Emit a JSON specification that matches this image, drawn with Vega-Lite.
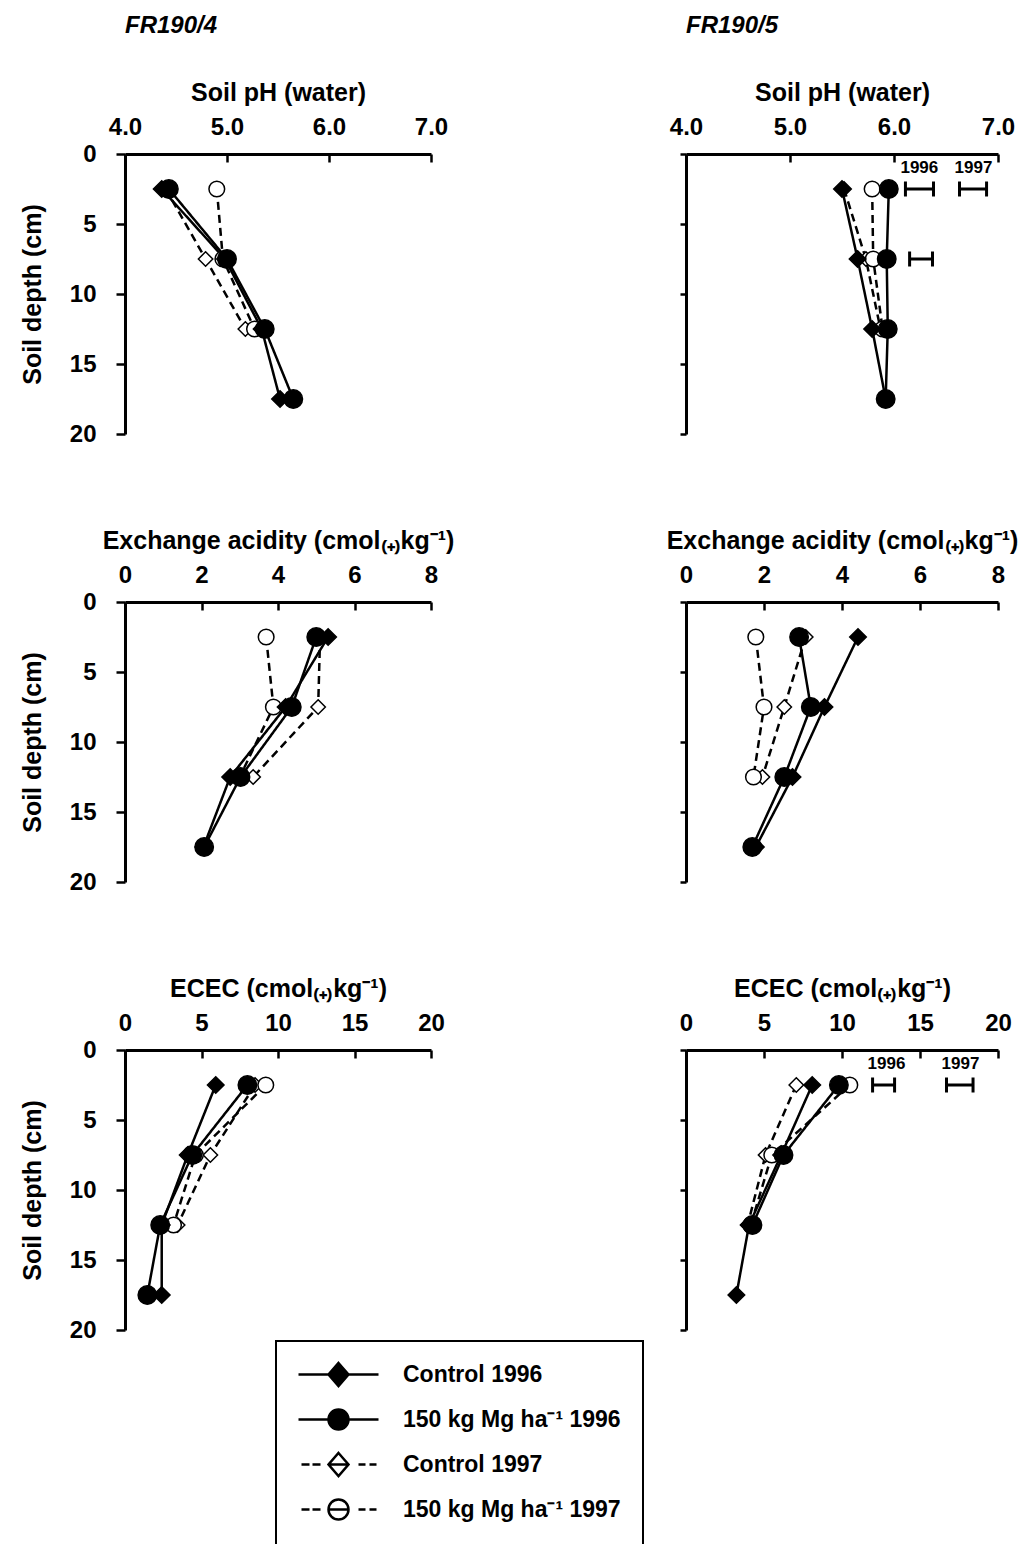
{
  "$schema": "https://vega.github.io/schema/vega-lite/v6.json",
  "padding": {"left": 20, "top": 14, "right": 5, "bottom": 240},
  "datasets": {
    "profiles": [
      {"panel": "pH4", "series": "Control 1997", "depth": 2.5, "value": 4.4},
      {"panel": "pH4", "series": "Control 1997", "depth": 7.5, "value": 4.79},
      {"panel": "pH4", "series": "Control 1997", "depth": 12.5, "value": 5.18},
      {"panel": "pH4", "series": "150 kg Mg ha⁻¹ 1997", "depth": 2.5, "value": 4.9},
      {"panel": "pH4", "series": "150 kg Mg ha⁻¹ 1997", "depth": 7.5, "value": 4.96},
      {"panel": "pH4", "series": "150 kg Mg ha⁻¹ 1997", "depth": 12.5, "value": 5.27},
      {"panel": "pH4", "series": "Control 1996", "depth": 2.5, "value": 4.36},
      {"panel": "pH4", "series": "Control 1996", "depth": 7.5, "value": 4.98},
      {"panel": "pH4", "series": "Control 1996", "depth": 12.5, "value": 5.34},
      {"panel": "pH4", "series": "Control 1996", "depth": 17.5, "value": 5.52},
      {"panel": "pH4", "series": "150 kg Mg ha⁻¹ 1996", "depth": 2.5, "value": 4.43},
      {"panel": "pH4", "series": "150 kg Mg ha⁻¹ 1996", "depth": 7.5, "value": 5.0},
      {"panel": "pH4", "series": "150 kg Mg ha⁻¹ 1996", "depth": 12.5, "value": 5.37},
      {"panel": "pH4", "series": "150 kg Mg ha⁻¹ 1996", "depth": 17.5, "value": 5.65},

      {"panel": "pH5", "series": "Control 1997", "depth": 2.5, "value": 5.52},
      {"panel": "pH5", "series": "Control 1997", "depth": 7.5, "value": 5.73},
      {"panel": "pH5", "series": "Control 1997", "depth": 12.5, "value": 5.87},
      {"panel": "pH5", "series": "150 kg Mg ha⁻¹ 1997", "depth": 2.5, "value": 5.79},
      {"panel": "pH5", "series": "150 kg Mg ha⁻¹ 1997", "depth": 7.5, "value": 5.8},
      {"panel": "pH5", "series": "150 kg Mg ha⁻¹ 1997", "depth": 12.5, "value": 5.89},
      {"panel": "pH5", "series": "Control 1996", "depth": 2.5, "value": 5.5},
      {"panel": "pH5", "series": "Control 1996", "depth": 7.5, "value": 5.65},
      {"panel": "pH5", "series": "Control 1996", "depth": 12.5, "value": 5.79},
      {"panel": "pH5", "series": "Control 1996", "depth": 17.5, "value": 5.92},
      {"panel": "pH5", "series": "150 kg Mg ha⁻¹ 1996", "depth": 2.5, "value": 5.95},
      {"panel": "pH5", "series": "150 kg Mg ha⁻¹ 1996", "depth": 7.5, "value": 5.93},
      {"panel": "pH5", "series": "150 kg Mg ha⁻¹ 1996", "depth": 12.5, "value": 5.94},
      {"panel": "pH5", "series": "150 kg Mg ha⁻¹ 1996", "depth": 17.5, "value": 5.92},

      {"panel": "EA4", "series": "Control 1997", "depth": 2.5, "value": 5.1},
      {"panel": "EA4", "series": "Control 1997", "depth": 7.5, "value": 5.05},
      {"panel": "EA4", "series": "Control 1997", "depth": 12.5, "value": 3.35},
      {"panel": "EA4", "series": "150 kg Mg ha⁻¹ 1997", "depth": 2.5, "value": 3.69},
      {"panel": "EA4", "series": "150 kg Mg ha⁻¹ 1997", "depth": 7.5, "value": 3.88},
      {"panel": "EA4", "series": "150 kg Mg ha⁻¹ 1997", "depth": 12.5, "value": 3.0},
      {"panel": "EA4", "series": "Control 1996", "depth": 2.5, "value": 5.31},
      {"panel": "EA4", "series": "Control 1996", "depth": 7.5, "value": 4.2},
      {"panel": "EA4", "series": "Control 1996", "depth": 12.5, "value": 2.75},
      {"panel": "EA4", "series": "Control 1996", "depth": 17.5, "value": 2.05},
      {"panel": "EA4", "series": "150 kg Mg ha⁻¹ 1996", "depth": 2.5, "value": 5.0},
      {"panel": "EA4", "series": "150 kg Mg ha⁻¹ 1996", "depth": 7.5, "value": 4.36},
      {"panel": "EA4", "series": "150 kg Mg ha⁻¹ 1996", "depth": 12.5, "value": 3.02},
      {"panel": "EA4", "series": "150 kg Mg ha⁻¹ 1996", "depth": 17.5, "value": 2.07},

      {"panel": "EA5", "series": "Control 1997", "depth": 2.5, "value": 3.07},
      {"panel": "EA5", "series": "Control 1997", "depth": 7.5, "value": 2.52},
      {"panel": "EA5", "series": "Control 1997", "depth": 12.5, "value": 1.96},
      {"panel": "EA5", "series": "150 kg Mg ha⁻¹ 1997", "depth": 2.5, "value": 1.79},
      {"panel": "EA5", "series": "150 kg Mg ha⁻¹ 1997", "depth": 7.5, "value": 2.0},
      {"panel": "EA5", "series": "150 kg Mg ha⁻¹ 1997", "depth": 12.5, "value": 1.73},
      {"panel": "EA5", "series": "Control 1996", "depth": 2.5, "value": 4.41},
      {"panel": "EA5", "series": "Control 1996", "depth": 7.5, "value": 3.55},
      {"panel": "EA5", "series": "Control 1996", "depth": 12.5, "value": 2.73},
      {"panel": "EA5", "series": "Control 1996", "depth": 17.5, "value": 1.79},
      {"panel": "EA5", "series": "150 kg Mg ha⁻¹ 1996", "depth": 2.5, "value": 2.9},
      {"panel": "EA5", "series": "150 kg Mg ha⁻¹ 1996", "depth": 7.5, "value": 3.2},
      {"panel": "EA5", "series": "150 kg Mg ha⁻¹ 1996", "depth": 12.5, "value": 2.52},
      {"panel": "EA5", "series": "150 kg Mg ha⁻¹ 1996", "depth": 17.5, "value": 1.7},

      {"panel": "EC4", "series": "Control 1997", "depth": 2.5, "value": 8.5},
      {"panel": "EC4", "series": "Control 1997", "depth": 7.5, "value": 5.58},
      {"panel": "EC4", "series": "Control 1997", "depth": 12.5, "value": 3.44},
      {"panel": "EC4", "series": "150 kg Mg ha⁻¹ 1997", "depth": 2.5, "value": 9.2},
      {"panel": "EC4", "series": "150 kg Mg ha⁻¹ 1997", "depth": 7.5, "value": 4.6},
      {"panel": "EC4", "series": "150 kg Mg ha⁻¹ 1997", "depth": 12.5, "value": 3.17},
      {"panel": "EC4", "series": "Control 1996", "depth": 2.5, "value": 5.93},
      {"panel": "EC4", "series": "Control 1996", "depth": 7.5, "value": 4.1},
      {"panel": "EC4", "series": "Control 1996", "depth": 12.5, "value": 2.4},
      {"panel": "EC4", "series": "Control 1996", "depth": 17.5, "value": 2.4},
      {"panel": "EC4", "series": "150 kg Mg ha⁻¹ 1996", "depth": 2.5, "value": 8.0},
      {"panel": "EC4", "series": "150 kg Mg ha⁻¹ 1996", "depth": 7.5, "value": 4.4},
      {"panel": "EC4", "series": "150 kg Mg ha⁻¹ 1996", "depth": 12.5, "value": 2.3},
      {"panel": "EC4", "series": "150 kg Mg ha⁻¹ 1996", "depth": 17.5, "value": 1.46},

      {"panel": "EC5", "series": "Control 1997", "depth": 2.5, "value": 7.07},
      {"panel": "EC5", "series": "Control 1997", "depth": 7.5, "value": 5.1},
      {"panel": "EC5", "series": "Control 1997", "depth": 12.5, "value": 3.95},
      {"panel": "EC5", "series": "150 kg Mg ha⁻¹ 1997", "depth": 2.5, "value": 10.5},
      {"panel": "EC5", "series": "150 kg Mg ha⁻¹ 1997", "depth": 7.5, "value": 5.5},
      {"panel": "EC5", "series": "150 kg Mg ha⁻¹ 1997", "depth": 12.5, "value": 4.15},
      {"panel": "EC5", "series": "Control 1996", "depth": 2.5, "value": 8.09},
      {"panel": "EC5", "series": "Control 1996", "depth": 7.5, "value": 6.1},
      {"panel": "EC5", "series": "Control 1996", "depth": 12.5, "value": 4.04},
      {"panel": "EC5", "series": "Control 1996", "depth": 17.5, "value": 3.23},
      {"panel": "EC5", "series": "150 kg Mg ha⁻¹ 1996", "depth": 2.5, "value": 9.8},
      {"panel": "EC5", "series": "150 kg Mg ha⁻¹ 1996", "depth": 7.5, "value": 6.25},
      {"panel": "EC5", "series": "150 kg Mg ha⁻¹ 1996", "depth": 12.5, "value": 4.26}
    ],
    "lsd": [
      {"panel": "pH5", "year": "1996", "depth": 2.5, "lo": 6.11, "hi": 6.38},
      {"panel": "pH5", "year": "1997", "depth": 2.5, "lo": 6.63, "hi": 6.89},
      {"panel": "pH5", "year": "1996", "depth": 7.5, "lo": 6.15, "hi": 6.37},
      {"panel": "EC5", "year": "1996", "depth": 2.5, "lo": 11.96, "hi": 13.37},
      {"panel": "EC5", "year": "1997", "depth": 2.5, "lo": 16.7, "hi": 18.4}
    ]
  },
  "data": {"name": "profiles"},
  "columns": 2,
  "bounds": "flush",
  "spacing": {"row": 168, "column": 255},
  "config": {
    "font": "Liberation Sans",
    "view": {"stroke": null},
    "axis": {
      "grid": false,
      "domainColor": "black",
      "domainWidth": 3,
      "tickColor": "black",
      "tickWidth": 2.5,
      "labelFont": "Liberation Sans",
      "labelFontSize": 24,
      "labelFontWeight": "bold",
      "labelColor": "black",
      "labelFlush": false,
      "labelOverlap": false,
      "titleFont": "Liberation Sans",
      "titleFontSize": 25,
      "titleFontWeight": "bold",
      "titleColor": "black"
    },
    "axisX": {"tickSize": -8, "labelPadding": 23, "titlePadding": 10},
    "axisY": {"tickSize": 9, "labelPadding": 20, "titlePadding": 24},
    "title": {
      "font": "Liberation Sans",
      "fontSize": 24,
      "fontWeight": "bold",
      "fontStyle": "italic",
      "color": "black",
      "anchor": "start",
      "frame": "group",
      "offset": 42
    },
    "legend": {
      "padding": 22,
      "strokeColor": "black",
      "strokeWidth": 2,
      "fillColor": "white",
      "symbolSize": 400,
      "symbolOffset": 29,
      "symbolOpacity": 1,
      "symbolStrokeColor": "black",
      "symbolStrokeWidth": 2.5,
      "labelOffset": 53,
      "rowPadding": 13,
      "labelFont": "Liberation Sans",
      "labelFontSize": 23,
      "labelFontWeight": "bold",
      "labelColor": "black",
      "labelLimit": 400
    }
  },
  "concat": [
    {
      "width": 306,
      "height": 280,
      "title": "FR190/4",
      "transform": [{"filter": "datum.panel == 'pH4'"}],
      "resolve": {"scale": {"shape": "independent", "fill": "independent", "stroke": "independent"}},
      "encoding": {
        "x": {"field": "value", "type": "quantitative", "title": "Soil pH (water)",
              "scale": {"domain": [4, 7], "nice": false, "zero": false},
              "axis": {"orient": "top", "values": [4, 5, 6, 7], "format": ".1f"}},
        "y": {"field": "depth", "type": "quantitative", "title": "Soil depth (cm)",
              "scale": {"domain": [0, 20], "reverse": true, "nice": false},
              "axis": {"values": [0, 5, 10, 15, 20]}}
      },
      "layer": [
        {
          "mark": {"type": "line", "color": "black", "strokeWidth": 2.5},
          "encoding": {
            "detail": {"field": "series"},
            "order": {"field": "depth", "type": "quantitative"},
            "strokeDash": {"field": "series", "type": "nominal", "legend": null,
              "scale": {"domain": ["Control 1996", "150 kg Mg ha⁻¹ 1996", "Control 1997", "150 kg Mg ha⁻¹ 1997"],
                        "range": [[1, 0], [1, 0], [8, 5], [8, 5]]}}
          }
        },
        {
          "mark": {"type": "point", "filled": true, "stroke": "black", "strokeWidth": 1.5, "size": 340, "opacity": 1},
          "encoding": {
            "shape": {"field": "series", "type": "nominal", "legend": null,
              "scale": {"domain": ["Control 1996", "150 kg Mg ha⁻¹ 1996", "Control 1997", "150 kg Mg ha⁻¹ 1997"],
                        "range": ["M0,-0.9L0.9,0L0,0.9L-0.9,0Z", "circle", "M0,-0.78L0.78,0L0,0.78L-0.78,0Z", "M-0.85,0A0.85,0.85,0,1,1,0.85,0A0.85,0.85,0,1,1,-0.85,0Z"]}},
            "fill": {"field": "series", "type": "nominal", "legend": null,
              "scale": {"domain": ["Control 1996", "150 kg Mg ha⁻¹ 1996", "Control 1997", "150 kg Mg ha⁻¹ 1997"],
                        "range": ["black", "black", "white", "white"]}}
          }
        },
        {
          "mark": {"type": "point", "filled": true, "opacity": 0, "size": 10, "strokeWidth": 2.5},
          "encoding": {
            "shape": {"field": "series", "type": "nominal",
              "scale": {"domain": ["Control 1996", "150 kg Mg ha⁻¹ 1996", "Control 1997", "150 kg Mg ha⁻¹ 1997"],
                        "range": [
                          "M-4,0L-1,0M1,0L4,0M0,-1.15L1,0L0,1.15L-1,0Z",
                          "M-4,0L-1,0M1,0L4,0M-1,0A1,1,0,1,1,1,0A1,1,0,1,1,-1,0Z",
                          "M-3.7,0L-2.9,0M-2.6,0L-1.8,0M-1,0L1,0M2,0L2.7,0M3.1,0L3.8,0M0,-1.15L1,0L0,1.15L-1,0Z",
                          "M-3.7,0L-2.9,0M-2.6,0L-1.8,0M-1,0L1,0M2,0L2.7,0M3.1,0L3.8,0M-1,0A1,1,0,1,1,1,0A1,1,0,1,1,-1,0Z"
                        ]},
              "legend": {"title": null, "orient": "none", "legendX": 151, "legendY": 1187, "symbolOpacity": 1, "symbolStrokeWidth": 2.5}},
            "fill": {"field": "series", "type": "nominal",
              "scale": {"domain": ["Control 1996", "150 kg Mg ha⁻¹ 1996", "Control 1997", "150 kg Mg ha⁻¹ 1997"],
                        "range": ["black", "black", "white", "white"]},
              "legend": {"title": null, "orient": "none", "legendX": 151, "legendY": 1187, "symbolOpacity": 1, "symbolStrokeWidth": 2.5}},
            "stroke": {"field": "series", "type": "nominal",
              "scale": {"domain": ["Control 1996", "150 kg Mg ha⁻¹ 1996", "Control 1997", "150 kg Mg ha⁻¹ 1997"],
                        "range": ["black", "black", "black", "black"]},
              "legend": {"title": null, "orient": "none", "legendX": 151, "legendY": 1187, "symbolOpacity": 1, "symbolStrokeWidth": 2.5}}
          }
        }
      ]
    },
    {
      "width": 312,
      "height": 280,
      "title": "FR190/5",
      "encoding": {
        "x": {"field": "value", "type": "quantitative", "title": "Soil pH (water)",
              "scale": {"domain": [4, 7], "nice": false, "zero": false},
              "axis": {"orient": "top", "values": [4, 5, 6, 7], "format": ".1f"}},
        "y": {"field": "depth", "type": "quantitative", "title": null,
              "scale": {"domain": [0, 20], "reverse": true, "nice": false},
              "axis": {"values": [0, 5, 10, 15, 20], "labels": false, "tickSize": 6}}
      },
      "layer": [
        {
          "transform": [{"filter": "datum.panel == 'pH5'"}],
          "mark": {"type": "line", "color": "black", "strokeWidth": 2.5},
          "encoding": {
            "detail": {"field": "series"},
            "order": {"field": "depth", "type": "quantitative"},
            "strokeDash": {"field": "series", "type": "nominal", "legend": null}
          }
        },
        {
          "transform": [{"filter": "datum.panel == 'pH5'"}],
          "mark": {"type": "point", "filled": true, "stroke": "black", "strokeWidth": 1.5, "size": 340, "opacity": 1},
          "encoding": {
            "shape": {"field": "series", "type": "nominal", "legend": null,
              "scale": {"domain": ["Control 1996", "150 kg Mg ha⁻¹ 1996", "Control 1997", "150 kg Mg ha⁻¹ 1997"],
                        "range": ["M0,-0.9L0.9,0L0,0.9L-0.9,0Z", "circle", "M0,-0.78L0.78,0L0,0.78L-0.78,0Z", "M-0.85,0A0.85,0.85,0,1,1,0.85,0A0.85,0.85,0,1,1,-0.85,0Z"]}},
            "fill": {"field": "series", "type": "nominal", "legend": null,
              "scale": {"domain": ["Control 1996", "150 kg Mg ha⁻¹ 1996", "Control 1997", "150 kg Mg ha⁻¹ 1997"],
                        "range": ["black", "black", "white", "white"]}}
          }
        },
        {
          "data": {"name": "lsd"},
          "transform": [{"filter": "datum.panel == 'pH5'"}],
          "mark": {"type": "rule", "color": "black", "strokeWidth": 3},
          "encoding": {
            "x": {"field": "lo", "type": "quantitative", "title": "Soil pH (water)"},
            "x2": {"field": "hi"}
          }
        },
        {
          "data": {"name": "lsd"},
          "transform": [{"filter": "datum.panel == 'pH5'"}],
          "mark": {"type": "tick", "orient": "vertical", "color": "black", "size": 15, "thickness": 3, "opacity": 1},
          "encoding": {"x": {"field": "lo", "type": "quantitative", "title": "Soil pH (water)"}}
        },
        {
          "data": {"name": "lsd"},
          "transform": [{"filter": "datum.panel == 'pH5'"}],
          "mark": {"type": "tick", "orient": "vertical", "color": "black", "size": 15, "thickness": 3, "opacity": 1},
          "encoding": {"x": {"field": "hi", "type": "quantitative", "title": "Soil pH (water)"}}
        },
        {
          "data": {"name": "lsd"},
          "transform": [{"filter": "datum.panel == 'pH5' && datum.depth == 2.5"}],
          "mark": {"type": "text", "align": "left", "baseline": "bottom", "dx": -5, "dy": -12, "font": "Liberation Sans", "fontSize": 17, "fontWeight": "bold", "color": "black"},
          "encoding": {
            "x": {"field": "lo", "type": "quantitative", "title": "Soil pH (water)"},
            "text": {"field": "year"}
          }
        }
      ]
    },
    {
      "width": 306,
      "height": 280,
      "transform": [{"filter": "datum.panel == 'EA4'"}],
      "encoding": {
        "x": {"field": "value", "type": "quantitative", "title": "Exchange acidity (cmol₍₊₎kg⁻¹)",
              "scale": {"domain": [0, 8], "nice": false},
              "axis": {"orient": "top", "values": [0, 2, 4, 6, 8]}},
        "y": {"field": "depth", "type": "quantitative", "title": "Soil depth (cm)",
              "scale": {"domain": [0, 20], "reverse": true, "nice": false},
              "axis": {"values": [0, 5, 10, 15, 20]}}
      },
      "layer": [
        {
          "mark": {"type": "line", "color": "black", "strokeWidth": 2.5},
          "encoding": {
            "detail": {"field": "series"},
            "order": {"field": "depth", "type": "quantitative"},
            "strokeDash": {"field": "series", "type": "nominal", "legend": null}
          }
        },
        {
          "mark": {"type": "point", "filled": true, "stroke": "black", "strokeWidth": 1.5, "size": 340, "opacity": 1},
          "encoding": {
            "shape": {"field": "series", "type": "nominal", "legend": null},
            "fill": {"field": "series", "type": "nominal", "legend": null}
          }
        }
      ]
    },
    {
      "width": 312,
      "height": 280,
      "transform": [{"filter": "datum.panel == 'EA5'"}],
      "encoding": {
        "x": {"field": "value", "type": "quantitative", "title": "Exchange acidity (cmol₍₊₎kg⁻¹)",
              "scale": {"domain": [0, 8], "nice": false},
              "axis": {"orient": "top", "values": [0, 2, 4, 6, 8]}},
        "y": {"field": "depth", "type": "quantitative", "title": null,
              "scale": {"domain": [0, 20], "reverse": true, "nice": false},
              "axis": {"values": [0, 5, 10, 15, 20], "labels": false, "tickSize": 6}}
      },
      "layer": [
        {
          "mark": {"type": "line", "color": "black", "strokeWidth": 2.5},
          "encoding": {
            "detail": {"field": "series"},
            "order": {"field": "depth", "type": "quantitative"},
            "strokeDash": {"field": "series", "type": "nominal", "legend": null}
          }
        },
        {
          "mark": {"type": "point", "filled": true, "stroke": "black", "strokeWidth": 1.5, "size": 340, "opacity": 1},
          "encoding": {
            "shape": {"field": "series", "type": "nominal", "legend": null},
            "fill": {"field": "series", "type": "nominal", "legend": null}
          }
        }
      ]
    },
    {
      "width": 306,
      "height": 280,
      "transform": [{"filter": "datum.panel == 'EC4'"}],
      "encoding": {
        "x": {"field": "value", "type": "quantitative", "title": "ECEC (cmol₍₊₎kg⁻¹)",
              "scale": {"domain": [0, 20], "nice": false},
              "axis": {"orient": "top", "values": [0, 5, 10, 15, 20]}},
        "y": {"field": "depth", "type": "quantitative", "title": "Soil depth (cm)",
              "scale": {"domain": [0, 20], "reverse": true, "nice": false},
              "axis": {"values": [0, 5, 10, 15, 20]}}
      },
      "layer": [
        {
          "mark": {"type": "line", "color": "black", "strokeWidth": 2.5},
          "encoding": {
            "detail": {"field": "series"},
            "order": {"field": "depth", "type": "quantitative"},
            "strokeDash": {"field": "series", "type": "nominal", "legend": null}
          }
        },
        {
          "mark": {"type": "point", "filled": true, "stroke": "black", "strokeWidth": 1.5, "size": 340, "opacity": 1},
          "encoding": {
            "shape": {"field": "series", "type": "nominal", "legend": null},
            "fill": {"field": "series", "type": "nominal", "legend": null}
          }
        }
      ]
    },
    {
      "width": 312,
      "height": 280,
      "encoding": {
        "x": {"field": "value", "type": "quantitative", "title": "ECEC (cmol₍₊₎kg⁻¹)",
              "scale": {"domain": [0, 20], "nice": false},
              "axis": {"orient": "top", "values": [0, 5, 10, 15, 20]}},
        "y": {"field": "depth", "type": "quantitative", "title": null,
              "scale": {"domain": [0, 20], "reverse": true, "nice": false},
              "axis": {"values": [0, 5, 10, 15, 20], "labels": false, "tickSize": 6}}
      },
      "layer": [
        {
          "transform": [{"filter": "datum.panel == 'EC5'"}],
          "mark": {"type": "line", "color": "black", "strokeWidth": 2.5},
          "encoding": {
            "detail": {"field": "series"},
            "order": {"field": "depth", "type": "quantitative"},
            "strokeDash": {"field": "series", "type": "nominal", "legend": null}
          }
        },
        {
          "transform": [{"filter": "datum.panel == 'EC5'"}],
          "mark": {"type": "point", "filled": true, "stroke": "black", "strokeWidth": 1.5, "size": 340, "opacity": 1},
          "encoding": {
            "shape": {"field": "series", "type": "nominal", "legend": null},
            "fill": {"field": "series", "type": "nominal", "legend": null}
          }
        },
        {
          "data": {"name": "lsd"},
          "transform": [{"filter": "datum.panel == 'EC5'"}],
          "mark": {"type": "rule", "color": "black", "strokeWidth": 3},
          "encoding": {
            "x": {"field": "lo", "type": "quantitative", "title": "ECEC (cmol₍₊₎kg⁻¹)"},
            "x2": {"field": "hi"}
          }
        },
        {
          "data": {"name": "lsd"},
          "transform": [{"filter": "datum.panel == 'EC5'"}],
          "mark": {"type": "tick", "orient": "vertical", "color": "black", "size": 15, "thickness": 3, "opacity": 1},
          "encoding": {"x": {"field": "lo", "type": "quantitative", "title": "ECEC (cmol₍₊₎kg⁻¹)"}}
        },
        {
          "data": {"name": "lsd"},
          "transform": [{"filter": "datum.panel == 'EC5'"}],
          "mark": {"type": "tick", "orient": "vertical", "color": "black", "size": 15, "thickness": 3, "opacity": 1},
          "encoding": {"x": {"field": "hi", "type": "quantitative", "title": "ECEC (cmol₍₊₎kg⁻¹)"}}
        },
        {
          "data": {"name": "lsd"},
          "transform": [{"filter": "datum.panel == 'EC5' && datum.depth == 2.5"}],
          "mark": {"type": "text", "align": "left", "baseline": "bottom", "dx": -5, "dy": -12, "font": "Liberation Sans", "fontSize": 17, "fontWeight": "bold", "color": "black"},
          "encoding": {
            "x": {"field": "lo", "type": "quantitative", "title": "ECEC (cmol₍₊₎kg⁻¹)"},
            "text": {"field": "year"}
          }
        }
      ]
    }
  ]
}
